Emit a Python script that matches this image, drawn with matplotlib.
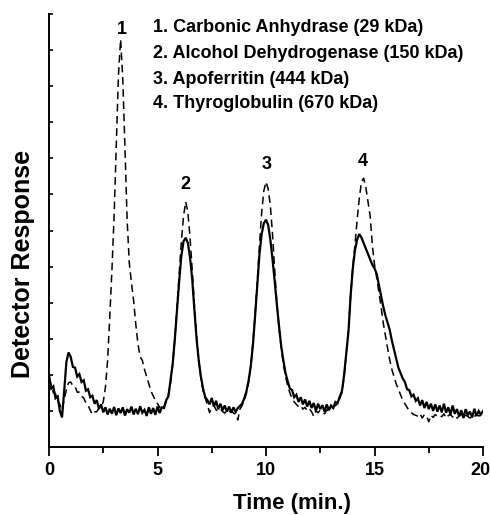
import matplotlib
matplotlib.use("Agg")
import matplotlib.pyplot as plt
import matplotlib.transforms as mtransforms
from matplotlib.ticker import MultipleLocator, NullFormatter

# ---------------- data ----------------
time_min = [
    0.0, 0.1, 0.2, 0.3, 0.4, 0.5, 0.6, 0.7, 0.8, 0.9,
    1.0, 1.1, 1.2, 1.3, 1.4, 1.5, 1.6, 1.7, 1.8, 1.9,
    2.0, 2.1, 2.2, 2.3, 2.4, 2.5, 2.6, 2.7, 2.8, 2.9,
    3.0, 3.1, 3.2, 3.3, 3.4, 3.5, 3.6, 3.7, 3.8, 3.9,
    4.0, 4.1, 4.2, 4.3, 4.4, 4.5, 4.6, 4.7, 4.8, 4.9,
    5.0, 5.1, 5.2, 5.3, 5.4, 5.5, 5.6, 5.7, 5.8, 5.9,
    6.0, 6.1, 6.2, 6.3, 6.4, 6.5, 6.6, 6.7, 6.8, 6.9,
    7.0, 7.1, 7.2, 7.3, 7.4, 7.5, 7.6, 7.7, 7.8, 7.9,
    8.0, 8.1, 8.2, 8.3, 8.4, 8.5, 8.6, 8.7, 8.8, 8.9,
    9.0, 9.1, 9.2, 9.3, 9.4, 9.5, 9.6, 9.7, 9.8, 9.9,
    10.0, 10.1, 10.2, 10.3, 10.4, 10.5, 10.6, 10.7, 10.8, 10.9,
    11.0, 11.1, 11.2, 11.3, 11.4, 11.5, 11.6, 11.7, 11.8, 11.9,
    12.0, 12.1, 12.2, 12.3, 12.4, 12.5, 12.6, 12.7, 12.8, 12.9,
    13.0, 13.1, 13.2, 13.3, 13.4, 13.5, 13.6, 13.7, 13.8, 13.9,
    14.0, 14.1, 14.2, 14.3, 14.4, 14.5, 14.6, 14.7, 14.8, 14.9,
    15.0, 15.1, 15.2, 15.3, 15.4, 15.5, 15.6, 15.7, 15.8, 15.9,
    16.0, 16.1, 16.2, 16.3, 16.4, 16.5, 16.6, 16.7, 16.8, 16.9,
    17.0, 17.1, 17.2, 17.3, 17.4, 17.5, 17.6, 17.7, 17.8, 17.9,
    18.0, 18.1, 18.2, 18.3, 18.4, 18.5, 18.6, 18.7, 18.8, 18.9,
    19.0, 19.1, 19.2, 19.3, 19.4, 19.5, 19.6, 19.7, 19.8, 19.9,
    20.0,
]

# solid trace (mixture without carbonic anhydrase)
response_solid = [
    2.00, 1.62, 1.68, 1.35, 1.40, 1.00, 0.82, 1.55, 2.35, 2.62,
    2.50, 2.22, 2.20, 1.95, 2.02, 1.80, 1.85, 1.56, 1.60, 1.38,
    1.42, 1.20, 1.30, 1.06, 1.18, 0.96, 1.10, 0.90, 1.06, 0.92,
    1.11, 0.88, 1.07, 0.94, 1.10, 0.87, 1.05, 0.95, 1.12, 0.90,
    1.06, 0.91, 1.13, 0.95, 1.03, 0.86, 1.10, 0.92, 1.08, 0.89,
    1.12, 0.94, 1.10, 1.08, 1.30, 1.40, 1.85, 2.30, 3.00, 3.80,
    4.60, 5.30, 5.70, 5.80, 5.65, 5.25, 4.65, 3.80, 3.00, 2.40,
    1.95, 1.62, 1.38, 1.30, 1.18, 1.36, 1.12, 1.28, 1.05, 1.20,
    1.02, 1.15, 0.98, 1.12, 0.95, 1.10, 0.97, 1.08, 1.14, 1.20,
    1.35, 1.55, 1.85, 2.25, 2.85, 3.65, 4.50, 5.35, 5.90, 6.20,
    6.30, 6.15, 5.75, 5.20, 4.60, 3.95, 3.35, 2.80, 2.40, 2.05,
    1.82, 1.62, 1.58, 1.38, 1.45, 1.25, 1.38, 1.18, 1.32, 1.12,
    1.28, 1.08, 1.22, 1.00, 1.20, 1.05, 1.16, 0.98, 1.18, 1.02,
    1.15, 1.08, 1.25, 1.22, 1.40, 1.55, 2.00, 2.60, 3.20, 4.20,
    4.95, 5.45, 5.75, 5.90, 5.80, 5.65, 5.50, 5.35, 5.20, 5.05,
    4.95, 4.80, 4.50, 4.20, 3.90, 3.65, 3.45, 3.25, 2.95, 2.70,
    2.45, 2.20, 2.05, 1.90, 1.80, 1.60, 1.58, 1.40, 1.45, 1.28,
    1.35, 1.15, 1.30, 1.08, 1.25, 1.05, 1.20, 1.00, 1.18, 0.98,
    1.15, 0.96, 1.20, 0.95, 1.10, 0.90, 1.15, 0.92, 1.05, 0.85,
    1.02, 0.80, 1.05, 0.88, 0.98, 0.82, 1.06, 0.86, 1.00, 0.90,
    1.00,
]

# dashed trace (all four standards)
response_dashed = [
    1.90, 1.72, 1.50, 1.48, 1.28, 1.18, 1.02, 1.32, 1.58, 1.78,
    1.80, 1.70, 1.68, 1.52, 1.52, 1.40, 1.36, 1.22, 1.16, 1.02,
    0.90, 0.97, 0.98, 1.07, 1.10, 1.25, 1.65, 2.40, 3.60, 4.90,
    6.40, 8.40, 10.30, 11.30, 10.20, 8.30, 6.30, 5.10, 4.55, 4.05,
    3.40, 2.85, 2.50, 2.40, 2.15, 1.95, 1.75, 1.55, 1.42, 1.30,
    1.20, 1.10, 1.02, 1.12, 1.25, 1.45, 1.75, 2.30, 3.00, 3.90,
    4.80, 5.70, 6.40, 6.80, 6.50, 5.80, 4.90, 3.95, 3.10, 2.40,
    1.90, 1.55, 1.35, 1.18, 0.95, 1.10, 1.15, 1.03, 1.00, 1.06,
    0.98, 0.94, 1.02, 0.97, 1.01, 0.94, 0.90, 0.75, 1.05, 1.15,
    1.30, 1.50, 1.80, 2.25, 2.90, 3.70, 4.60, 5.60, 6.50, 7.10,
    7.35, 7.15, 6.70, 5.90, 4.90, 4.00, 3.30, 2.75, 2.30, 1.95,
    1.70, 1.50, 1.35, 1.25, 1.18, 1.12, 1.15, 1.05, 1.10, 1.00,
    1.05, 0.98, 0.85, 1.00, 0.95, 1.02, 0.97, 0.92, 1.03, 1.00,
    1.06, 1.10, 1.15, 1.20, 1.35, 1.50, 1.95, 2.60, 3.25, 4.20,
    5.00, 5.60, 6.30, 6.90, 7.35, 7.45, 7.20, 6.80, 6.40, 5.60,
    5.05, 4.70, 4.30, 3.90, 3.45, 3.10, 2.75, 2.42, 2.15, 1.95,
    1.75, 1.60, 1.45, 1.30, 1.20, 1.10, 1.00, 0.95, 0.90, 0.88,
    0.85, 0.92, 0.80, 0.90, 0.86, 0.70, 0.88, 0.82, 0.90, 0.85,
    0.88, 0.84, 0.92, 0.80, 0.87, 0.90, 0.83, 0.88, 0.80, 0.86,
    0.90, 0.82, 0.88, 0.85, 0.80, 0.87, 0.84, 0.90, 0.86, 0.88,
    0.90,
]

peak_labels = ["1", "2", "3", "4"]
peak_label_time = [3.35, 6.27, 10.03, 14.45]
peak_label_level = [11.58, 7.28, 7.83, 7.90]

legend_lines = [
    "1. Carbonic Anhydrase (29 kDa)",
    "2. Alcohol Dehydrogenase (150 kDa)",
    "3. Apoferritin (444 kDa)",
    "4. Thyroglobulin (670 kDa)",
]

x_ticks = [0, 5, 10, 15, 20]
x_label = "Time (min.)"
y_label = "Detector Response"

# ---------------- figure ----------------
W, H = 490, 515
plt.rcParams["font.family"] = ["Liberation Sans", "DejaVu Sans"]
plt.rcParams["font.weight"] = "bold"

fig = plt.figure(figsize=(W / 100, H / 100), dpi=100)
ax = fig.add_axes([49 / W, 1 - 447 / H, (483 - 49) / W, (447 - 14) / H])

ax.plot(time_min, response_solid, color="black", lw=1.6, solid_joinstyle="miter")
ax.plot(time_min, response_dashed, color="black", lw=1.1, linestyle=(0, (5, 3)))

ax.set_xlim(0, 20)
ax.set_ylim(0, 12)

for s in ["top", "right"]:
    ax.spines[s].set_visible(False)
for s in ["left", "bottom"]:
    ax.spines[s].set_linewidth(1.4)

ax.set_xticks(x_ticks)
ax.set_xticklabels([str(v) for v in x_ticks])
ax.xaxis.set_minor_locator(MultipleLocator(2.5))
ax.tick_params(axis="x", which="major", direction="out", length=6.5, width=1.3,
               labelsize=13, pad=4)
ax.tick_params(axis="x", which="minor", direction="out", length=4, width=1.3)
ax.yaxis.set_major_locator(MultipleLocator(1))
ax.yaxis.set_major_formatter(NullFormatter())
ax.tick_params(axis="y", which="major", direction="in", length=3, width=1.2)
xt_labels = ax.get_xticklabels()
for lab in xt_labels:
    lab.set_fontweight("bold")
# keep the last tick label inside the canvas
xt_labels[-1].set_transform(xt_labels[-1].get_transform() +
                            mtransforms.ScaledTranslation(-3 / 100, 0, fig.dpi_scale_trans))

for lab, t, v in zip(peak_labels, peak_label_time, peak_label_level):
    ax.text(t, v, lab, ha="center", va="center", fontsize=13, fontweight="bold")

legend_y_px = [28, 53, 79, 103]
for txt, ypx in zip(legend_lines, legend_y_px):
    fig.text(153 / W, 1 - ypx / H, txt, ha="left", va="center",
             fontsize=13, fontweight="bold")

fig.text(292 / W, 1 - 503 / H, x_label, ha="center", va="center",
         fontsize=16, fontweight="bold")
fig.text(23 / W, 1 - 264 / H, y_label, ha="center", va="center",
         rotation=90, fontsize=18, fontweight="bold")

fig.savefig("out.png", dpi=100)
